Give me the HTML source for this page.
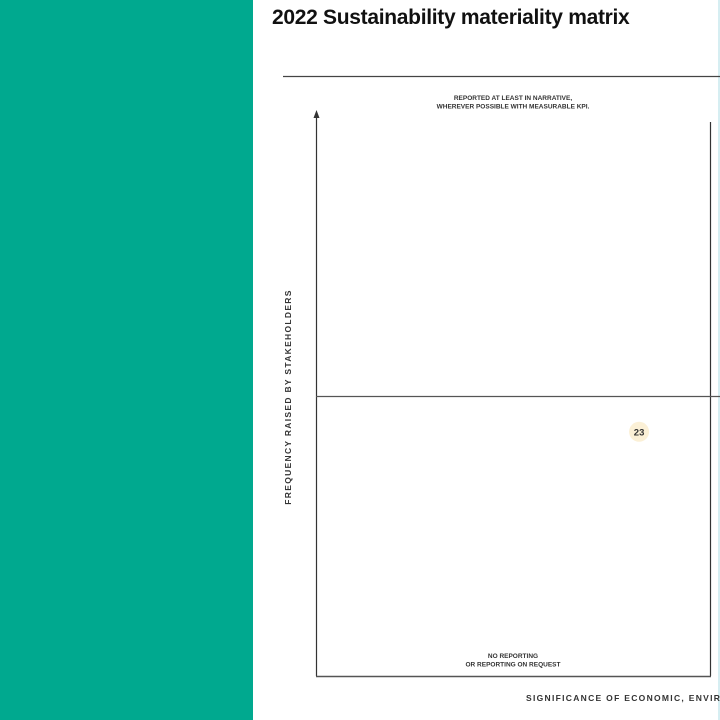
<!DOCTYPE html>
<html><head><meta charset="utf-8"><style>
body{margin:0;width:720px;height:720px;overflow:hidden;background:#fff;font-family:"Liberation Sans",sans-serif;position:relative}
.t{position:absolute;font-weight:bold;color:#333}
</style></head><body>
<div style="position:absolute;left:0;top:0;width:253px;height:720px;background:#00a98f"></div>
<div class="t" style="left:272px;top:6px;font-size:21px;color:#111;letter-spacing:-0.3px">2022 Sustainability materiality matrix</div>
<div style="position:absolute;left:718px;top:0;width:2px;height:720px;background:#d6eef2"></div>
<svg id="chart" width="720" height="720" style="position:absolute;left:0;top:0">
<line x1="283" y1="76.5" x2="720" y2="76.5" stroke="#444" stroke-width="1.3"/>
<line x1="316.5" y1="116" x2="316.5" y2="676" stroke="#333" stroke-width="1.2"/>
<polygon points="316.5,110 313.5,118 319.5,118" fill="#333"/>
<line x1="710.5" y1="122" x2="710.5" y2="676" stroke="#333" stroke-width="1.2"/>
<line x1="316" y1="396.5" x2="720" y2="396.5" stroke="#555" stroke-width="1.2"/>
<line x1="316" y1="676.5" x2="711" y2="676.5" stroke="#555" stroke-width="1.4"/>
<text x="513" y="100" font-size="6.5" font-weight="bold" fill="#333" text-anchor="middle" font-family="Liberation Sans">REPORTED AT LEAST IN NARRATIVE,</text>
<text x="513" y="108.5" font-size="6.5" font-weight="bold" fill="#333" text-anchor="middle" font-family="Liberation Sans">WHEREVER POSSIBLE WITH MEASURABLE KPI.</text>
<text x="513" y="658" font-size="6.5" font-weight="bold" fill="#333" text-anchor="middle" font-family="Liberation Sans">NO REPORTING</text>
<text x="513" y="666.5" font-size="6.5" font-weight="bold" fill="#333" text-anchor="middle" font-family="Liberation Sans">OR REPORTING ON REQUEST</text>
<text x="526" y="701" font-size="8.5" font-weight="bold" fill="#333" letter-spacing="1.3" font-family="Liberation Sans">SIGNIFICANCE OF ECONOMIC, ENVIRONMENTAL</text>
<text transform="translate(291,397) rotate(-90)" font-size="8.5" font-weight="bold" fill="#333" text-anchor="middle" letter-spacing="1.3" font-family="Liberation Sans">FREQUENCY RAISED BY STAKEHOLDERS</text>
<g id="points"></g>
</svg>
<script>
const topicIds=["23"];
const significance=[8.2];
const frequency=[4.33];
const xs=v=>316+v/10*394;
const ys=v=>676-v/10*564;
const g=document.getElementById('points');
const ns="http://www.w3.org/2000/svg";
topicIds.forEach((id,i)=>{
  const c=document.createElementNS(ns,'circle');
  
  
  c.setAttribute('cx',xs(significance[i]));c.setAttribute('cy',ys(frequency[i]));
  c.setAttribute('r',10);c.setAttribute('fill','#fbf0d6');
  g.appendChild(c);
  const t=document.createElementNS(ns,'text');
  
  
  t.setAttribute('x',xs(significance[i]));t.setAttribute('y',ys(frequency[i])+3.5);
  t.setAttribute('text-anchor','middle');t.setAttribute('font-size','9.5');
  t.setAttribute('font-weight','bold');t.setAttribute('fill','#333');
  t.setAttribute('font-family','Liberation Sans');
  t.textContent=id;
  g.appendChild(t);
});
</script>
</body></html>
